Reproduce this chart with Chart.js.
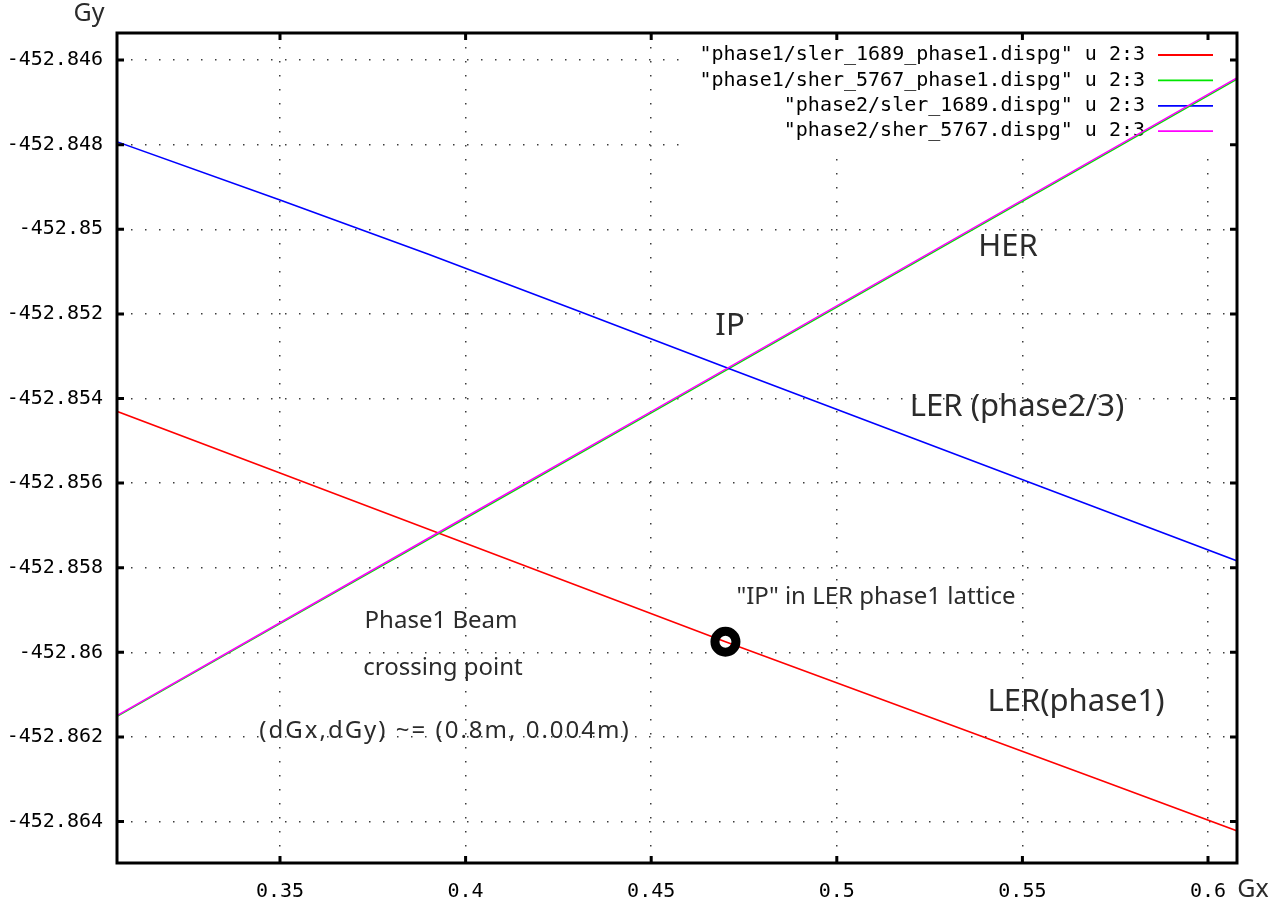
<!DOCTYPE html>
<html>
<head>
<meta charset="utf-8">
<script src="https://cdn.jsdelivr.net/npm/chart.js@4/dist/chart.umd.min.js"></script>
<style>
    body { margin: 0; background: #fff; }
    canvas { display: block; }
</style>
</head>
<body>
<canvas id="dispChart" width="1271" height="901"></canvas>
<script>

// axis ticks
const xTicks = [0.35, 0.4, 0.45, 0.5, 0.55, 0.6];
const yTicks = [-452.846, -452.848, -452.85, -452.852, -452.854, -452.856,
                -452.858, -452.86, -452.862, -452.864];

// LER phase1 (red)
const lerP1Gx = [0.30, 0.35, 0.39, 0.43, 0.47, 0.52, 0.57, 0.61];
const lerP1Gy = [-452.85410, -452.85576, -452.85709, -452.85842, -452.85975,
                 -452.86137, -452.86299, -452.86429];

// HER phase1 (green)
const herP1Gx = [0.30, 0.35, 0.40, 0.45, 0.50, 0.55, 0.61];
const herP1Gy = [-452.86182, -452.85932, -452.85683, -452.85434, -452.85184,
                 -452.84934, -452.84634];

// LER phase2 (blue)
const lerP2Gx = [0.30, 0.35, 0.39, 0.43, 0.47, 0.52, 0.57, 0.61];
const lerP2Gy = [-452.84774, -452.84931, -452.85059, -452.85192,
                 -452.85326, -452.85492, -452.85658, -452.85791];

// HER phase2 (magenta)
const herP2Gx = [0.30, 0.35, 0.40, 0.45, 0.50, 0.55, 0.61];
const herP2Gy = [-452.86180, -452.85930, -452.85680, -452.85431, -452.85181,
                 -452.84931, -452.84631];

// IP of the LER phase1 lattice
const ipGx = [0.47];
const ipGy = [-452.85975];

const seriesNames = [
    '"phase1/sler_1689_phase1.dispg" u 2:3',
    '"phase1/sher_5767_phase1.dispg" u 2:3',
    '"phase2/sler_1689.dispg" u 2:3',
    '"phase2/sher_5767.dispg" u 2:3'
];

const MONO = '"DejaVu Sans Mono", "Liberation Mono", monospace';
const SANS = '"Noto Sans", "DejaVu Sans", sans-serif';
const TEXT = '#2b2b2b';


function points(xs, ys){
    return xs.map((x, i) => ({x: x, y: ys[i]}));
}

function lineSet(label, xs, ys, color, order){
    return {
        label: label,
        data: points(xs, ys),
        showLine: true,
        borderColor: color,
        backgroundColor: color,
        borderWidth: 1.6,
        pointRadius: 0,
        order: order
    };
}


// white key box with right aligned names and line samples
const keyBox = {
    id: 'keyBox',
    beforeDatasetsDraw(chart){
        const ctx = chart.ctx;
        ctx.save();
        ctx.fillStyle = '#fff';
        ctx.fillRect(690, 38, 546, 109);

        ctx.font = '20px ' + MONO;
        ctx.textAlign = 'right';
        ctx.textBaseline = 'middle';
        ctx.lineWidth = 1.8;
        for (let i = 0; i < 4; i++) {
            const ds = chart.data.datasets[i];
            const y = 55 + i * 25.4;
            ctx.fillStyle = '#000';
            ctx.fillText(ds.label, 1145, y);
            ctx.strokeStyle = ds.borderColor;
            ctx.beginPath();
            ctx.moveTo(1158, y);
            ctx.lineTo(1213, y);
            ctx.stroke();
        }
        ctx.restore();
    }
};

// frame, inward ticks on all sides, axis names and notes
const frameAndNotes = {
    id: 'frameAndNotes',
    afterDatasetsDraw(chart){
        const ctx = chart.ctx;
        const a = chart.chartArea;
        const xs = chart.scales.x;
        const ys = chart.scales.y;

        ctx.save();
        ctx.strokeStyle = '#000';
        ctx.lineWidth = 3;
        ctx.strokeRect(a.left, a.top, a.right - a.left, a.bottom - a.top);

        ctx.beginPath();
        xTicks.forEach(v => {
            const px = xs.getPixelForValue(v);
            ctx.moveTo(px, a.bottom); ctx.lineTo(px, a.bottom - 7);
            ctx.moveTo(px, a.top);    ctx.lineTo(px, a.top + 7);
        });
        yTicks.forEach(v => {
            const py = ys.getPixelForValue(v);
            ctx.moveTo(a.left, py);  ctx.lineTo(a.left + 7, py);
            ctx.moveTo(a.right, py); ctx.lineTo(a.right - 7, py);
        });
        ctx.stroke();

        ctx.fillStyle = TEXT;
        ctx.textAlign = 'center';
        ctx.textBaseline = 'middle';

        // axis names
        ctx.font = '25px ' + SANS;
        ctx.fillText('Gy', 89, 14);
        ctx.fillText('Gx', 1253, 890);

        // curve names
        ctx.font = '31px ' + SANS;
        ctx.fillText('HER', 1008, 247);
        ctx.fillText('IP', 730, 326);
        ctx.fillText('LER (phase2/3)', 1017, 407);
        ctx.fillText('LER(phase1)', 1076, 702);

        // notes
        ctx.font = '24px ' + SANS;
        ctx.fillText('"IP" in LER phase1 lattice', 876, 597);
        ctx.fillText('Phase1 Beam', 441, 621);
        ctx.fillText('crossing point', 443, 668);
        ctx.letterSpacing = '2px';
        ctx.fillText('(dGx,dGy) ~= (0.8m, 0.004m)', 445, 731);
        ctx.restore();
    }
};


function renderChart(){

    const datasets = [
        lineSet(seriesNames[0], lerP1Gx, lerP1Gy, '#ff0000', 3),
        lineSet(seriesNames[1], herP1Gx, herP1Gy, '#00e600', 2),
        lineSet(seriesNames[2], lerP2Gx, lerP2Gy, '#0000ff', 1),
        lineSet(seriesNames[3], herP2Gx, herP2Gy, '#ff00ff', 0),
        {
            label: 'IP',
            data: points(ipGx, ipGy),
            pointRadius: 10.5,
            pointBorderWidth: 9,
            pointBorderColor: '#000',
            pointBackgroundColor: 'rgba(0,0,0,0)',
            order: -1
        }
    ];

    const gridOpts = {
        color: '#3c3c3c',
        lineWidth: 1.5,
        drawTicks: false
    };
    const borderOpts = {
        display: false,
        dash: [1.5, 12.5]
    };

    new Chart(document.getElementById('dispChart'), {
        type: 'scatter',
        data: { datasets: datasets },
        options: {
            responsive: false,
            animation: false,
            layout: { padding: { top: 33, right: 34, left: 0, bottom: 0 } },
            plugins: {
                legend: { display: false },
                tooltip: { enabled: false }
            },
            scales: {
                x: {
                    type: 'linear',
                    min: 0.30609,
                    max: 0.60781,
                    grid: gridOpts,
                    border: borderOpts,
                    afterFit: s => { s.height = 38; },
                    afterBuildTicks: s => { s.ticks = xTicks.map(v => ({value: v})); },
                    ticks: {
                        color: '#000',
                        font: { family: MONO, size: 20 },
                        padding: 17,
                        maxRotation: 0,
                        callback: v => String(v)
                    }
                },
                y: {
                    type: 'linear',
                    min: -452.86498,
                    max: -452.84536,
                    grid: gridOpts,
                    border: borderOpts,
                    afterFit: s => { s.width = 117; },
                    afterBuildTicks: s => { s.ticks = yTicks.map(v => ({value: v})); },
                    ticks: {
                        color: '#000',
                        font: { family: MONO, size: 20 },
                        padding: 14,
                        callback: v => String(v)
                    }
                }
            }
        },
        plugins: [keyBox, frameAndNotes]
    });

}

renderChart();
</script>
</body>
</html>
